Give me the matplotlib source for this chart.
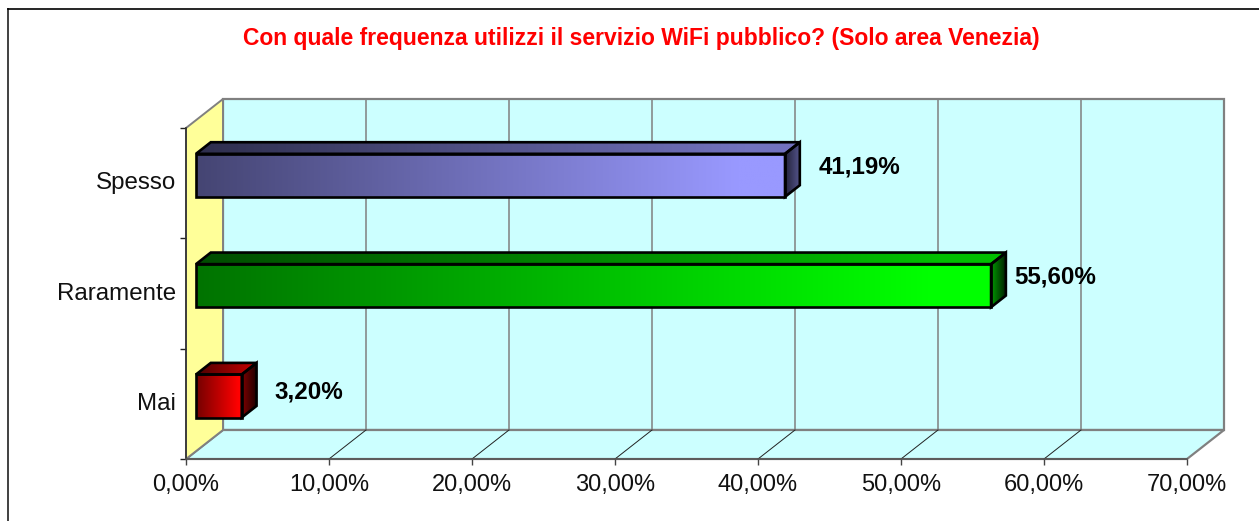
import numpy as np
import matplotlib
matplotlib.use('Agg')
import matplotlib.pyplot as plt
from matplotlib.colors import to_rgb
from matplotlib.lines import Line2D
from matplotlib.patches import Polygon
from matplotlib.transforms import ScaledTranslation

categories = ['Mai', 'Raramente', 'Spesso']
values = [3.20, 55.60, 41.19]
value_labels = ['3,20%', '55,60%', '41,19%']
x_ticks = [0, 10, 20, 30, 40, 50, 60, 70]
x_tick_labels = ['0,00%', '10,00%', '20,00%', '30,00%', '40,00%', '50,00%', '60,00%', '70,00%']
title = 'Con quale frequenza utilizzi il servizio WiFi pubblico? (Solo area Venezia)'

bar_colors = ['#ff0000', '#00ff00', '#9999ff']
side_shades = [(0.5, 0.1), (0.6, 0.12), (0.22, 0.55)]
label_offsets = [(33, 4), (23, 9), (34, 8)]

W, H = 1259, 521
plt.rcParams['font.family'] = ['Liberation Sans', 'DejaVu Sans']

fig = plt.figure(figsize=(W / 100, H / 100), dpi=100, facecolor='white')
ax = fig.add_axes([186 / W, (H - 459) / H, 1001 / W, 331 / H])
ax.patch.set_visible(False)

# depth of the fake 3d box, in data units
DX = 37 / 1001 * 70
DY = 29 / 331 * 3
BAR_H = 0.39
GRAY = '#808080'
CYAN = '#ccffff'


def poly(pts, fc='none', ec=GRAY, lw=1.0, z=1):
    p = Polygon(pts, closed=True, facecolor=fc, edgecolor=ec, linewidth=lw, zorder=z, clip_on=False)
    ax.add_patch(p)
    return p


def shade_face(pts, color, s0, s1, z, plateau=1.0):
    # horizontal gradient clipped to the face outline
    xs = [p[0] for p in pts]
    ys = [p[1] for p in pts]
    t = np.clip(np.linspace(0, 1, 256) / plateau, 0, 1)
    shade = s0 + (s1 - s0) * t
    img = shade[None, :, None] * np.array(to_rgb(color))[None, None, :]
    im = ax.imshow(img, extent=[min(xs), max(xs), min(ys), max(ys)], aspect='auto',
                   interpolation='bilinear', zorder=z)
    clip = poly(pts, ec='black', lw=1.9, z=z + 0.1)
    im.set_clip_path(clip)
    im.set_clip_on(True)


# walls and floor
poly([(DX, DY), (70 + DX, DY), (70 + DX, 3 + DY), (DX, 3 + DY)], fc=CYAN, lw=1.6)
poly([(0, 0), (70, 0), (70 + DX, DY), (DX, DY)], fc=CYAN, lw=1.6)
poly([(0, 0), (DX, DY), (DX, 3 + DY), (0, 3)], fc='#ffff99', lw=1.4)

# gridlines on the back wall, thin lines on the floor
for t in x_ticks[1:-1]:
    ax.plot([t + DX, t + DX], [DY, 3 + DY], color=GRAY, lw=1.1, zorder=2, clip_on=False)
    ax.plot([t, t + DX], [0, DY], color='#222222', lw=0.7, zorder=2, clip_on=False)

# bars
front = 0.27
depth = 0.40
for i, val in enumerate(values):
    x0 = front * DX
    x1 = x0 + val
    y0 = i + 0.5 + front * DY - BAR_H / 2
    y1 = y0 + BAR_H
    dx, dy = depth * DX, depth * DY
    z = 3 + i
    shade_face([(x0, y1), (x1, y1), (x1 + dx, y1 + dy), (x0 + dx, y1 + dy)],
               bar_colors[i], 0.3, 0.75, z, plateau=0.92)
    shade_face([(x1, y0), (x1 + dx, y0 + dy), (x1 + dx, y1 + dy), (x1, y1)],
               bar_colors[i], side_shades[i][0], side_shades[i][1], z)
    shade_face([(x0, y0), (x1, y0), (x1, y1), (x0, y1)],
               bar_colors[i], 0.45, 1.0, z, plateau=0.92)
    ax.annotate(value_labels[i], xy=(x1, (y0 + y1) / 2), xytext=label_offsets[i],
                textcoords='offset pixels', ha='left', va='center',
                fontsize=17.4, fontweight='bold', color='black', zorder=10,
                annotation_clip=False)

ax.set_xlim(0, 70)
ax.set_ylim(0, 3)
ax.set_xticks(x_ticks)
ax.set_xticklabels(x_tick_labels, fontsize=17, color='#111111')
ax.set_yticks([0, 1, 2, 3])
ax.set_yticklabels([])
ax.set_yticks([0.5, 1.5, 2.5], minor=True)
ax.set_yticklabels(categories, minor=True, fontsize=17.4, color='#111111')
ax.tick_params(axis='x', length=4.5, width=1, color='#444444', pad=6.5)
ax.tick_params(axis='y', which='major', length=4.5, width=1, color='#222222')
ax.tick_params(axis='y', which='minor', length=0, pad=7)
up = ScaledTranslation(0, 2.5 / 100, fig.dpi_scale_trans)
for lab in ax.get_yticklabels(minor=True):
    lab.set_transform(lab.get_transform() + up)
for side in ['top', 'right']:
    ax.spines[side].set_visible(False)
ax.spines['left'].set_color('#333333')
ax.spines['bottom'].set_color('#555555')
ax.spines['left'].set_linewidth(1.2)
ax.spines['bottom'].set_linewidth(1.2)
ax.spines['left'].set_zorder(2.5)
ax.spines['bottom'].set_zorder(2.5)

fig.text(641 / W, 1 - 38 / H, title, color='#ff0000', fontsize=16.45, fontweight='bold',
         ha='center', va='center')

# chart frame, only top and left are visible in the crop
fig.add_artist(Line2D([8 / W, 8 / W], [0, 1 - 9 / H], color='#404040', lw=1.4))
fig.add_artist(Line2D([8 / W, 1], [1 - 9 / H, 1 - 9 / H], color='black', lw=1.2))

fig.savefig('out.png', dpi=100, facecolor='white')
